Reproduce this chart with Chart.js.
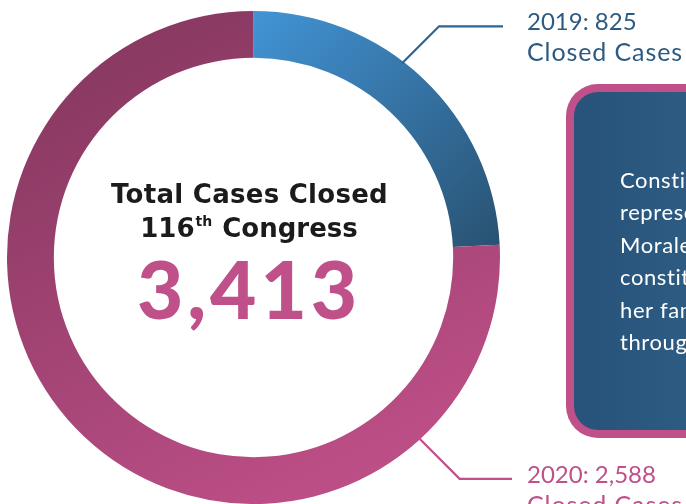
<!DOCTYPE html>
<html><head><meta charset="utf-8">
<script src="https://cdn.jsdelivr.net/npm/chart.js@4/dist/chart.umd.min.js"></script>
<style>html,body{margin:0;padding:0;background:#fff;overflow:hidden}#wrap{width:686px;height:504px}</style>
</head><body><div id="wrap"><canvas id="c" width="686" height="504"></canvas></div>
<script>
const categories = ['2019', '2020'];
const values = [825, 2588];
const valueLabels = ['2019: 825', '2020: 2,588'];
const subLabel = 'Closed Cases';
const centerTitle = ['Total Cases Closed', '116', 'th', ' Congress'];
const boxLines = ['Constituent services', 'representatives in Rep.', 'Morales\u2019 office helped', 'constituents and', 'her family members', 'through the year.'];

const total = values.reduce((a, b) => a + b, 0);
const totalText = total.toLocaleString('en-US');

function segColor(ctx) {
  const chart = ctx.chart;
  const a = chart.chartArea;
  if (!a) return '#888';
  const c = chart.ctx;
  if (ctx.dataIndex === 0) {
    const g = c.createLinearGradient(a.left + a.width * 0.5, a.top, a.right, a.top + a.height * 0.5);
    g.addColorStop(0, '#4294d6');
    g.addColorStop(1, '#28506f');
    return g;
  }
  const g = c.createLinearGradient(a.left + a.width * 0.25, a.top, a.left + a.width * 0.75, a.bottom);
  g.addColorStop(0, '#863860');
  g.addColorStop(1, '#c05089');
  return g;
}

function spacedText(c, text, x, y, font, targetW) {
  c.font = font;
  c.letterSpacing = '0px';
  const w = c.measureText(text).width;
  const n = text.length;
  const ls = targetW ? (targetW - w) / n : 0;
  c.letterSpacing = ls + 'px';
  c.fillText(text, x, y);
  c.letterSpacing = '0px';
}

const overlay = {
  id: 'overlay',
  afterDraw(chart) {
    const c = chart.ctx;
    const meta = chart.getDatasetMeta(0);
    const arc0 = meta.data[0];
    const cx = arc0.x, cy = arc0.y, R = arc0.outerRadius;

    // Center text
    c.save();
    c.textBaseline = 'alphabetic';
    c.fillStyle = '#1c1a1b';
    c.textAlign = 'left';
    const tf = 'bold 26px "DejaVu Sans"', sf = 'bold 14px "DejaVu Sans"';
    spacedText(c, centerTitle[0], 111, 203, tf, 277);
    c.font = tf; const w1 = c.measureText(centerTitle[1]).width; const w3 = c.measureText(centerTitle[3]).width;
    c.font = sf; const w2 = c.measureText(centerTitle[2]).width + 2;
    let x0 = 249 - (w1 + w2 + w3) / 2;
    spacedText(c, centerTitle[1], x0, 237, tf, 0);
    spacedText(c, centerTitle[2], x0 + w1 + 1, 226, sf, 0);
    spacedText(c, centerTitle[3], x0 + w1 + w2, 237, tf, 0);
    c.fillStyle = '#bf5089';
    spacedText(c, totalText, 137, 319, '900 80px Lato', 224);
    c.restore();

    // Info box
    c.save();
    const bx = 566, by = 84, bw = 160, bh = 354, br = 32;
    c.beginPath();
    c.roundRect(bx, by, bw, bh, br);
    c.fillStyle = '#bf5089';
    c.fill();
    c.beginPath();
    c.roundRect(bx + 8, by + 8, bw - 16, bh - 16, br - 8);
    const bg = c.createLinearGradient(bx, 0, 686, 0);
    bg.addColorStop(0, '#27527a');
    bg.addColorStop(1, '#2d5b82');
    c.fillStyle = bg;
    c.fill();
    c.fillStyle = '#ffffff';
    c.font = '400 22px Lato';
    c.textAlign = 'left';
    c.letterSpacing = '0.6px';
    boxLines.forEach((t, i) => c.fillText(t, 620, 188 + i * 32.4));
    c.letterSpacing = '0px';
    c.restore();

    // Callouts
    const specs = [
      { el: meta.data[0], frac: 0.43, dir: -1, len: 37, ex: 503, color: '#2d6596', text: '#2c5a82' },
      { el: meta.data[1], frac: 0.185, dir: 1, len: 41, ex: 512, color: '#bf5089', text: '#bf5089' }
    ];
    specs.forEach((s, i) => {
      const ang = s.el.startAngle + (s.el.endAngle - s.el.startAngle) * s.frac;
      const px = cx + Math.cos(ang) * (R - 2), py = cy + Math.sin(ang) * (R - 2);
      const kx = px + s.len, ky = py + s.dir * s.len;
      c.save();
      c.strokeStyle = s.color;
      c.lineWidth = 2.2;
      c.beginPath();
      c.moveTo(px, py); c.lineTo(kx, ky); c.lineTo(s.ex, ky);
      c.stroke();
      c.fillStyle = s.text;
      c.textAlign = 'left';
      spacedText(c, valueLabels[i], 527, ky + 4, '400 24px Lato', 0);
      spacedText(c, subLabel, 527, ky + 35, '400 25px Lato', 156);
      c.restore();
    });
  }
};

new Chart(document.getElementById('c'), {
  type: 'doughnut',
  data: { labels: categories, datasets: [{ data: values, backgroundColor: segColor, borderWidth: 0, hoverOffset: 0 }] },
  options: {
    responsive: false,
    animation: false,
    cutout: '81%',
    layout: { padding: { left: 7, right: 186, top: 11, bottom: 0 } },
    plugins: { legend: { display: false }, tooltip: { enabled: false } }
  },
  plugins: [overlay]
});
</script></body></html>
